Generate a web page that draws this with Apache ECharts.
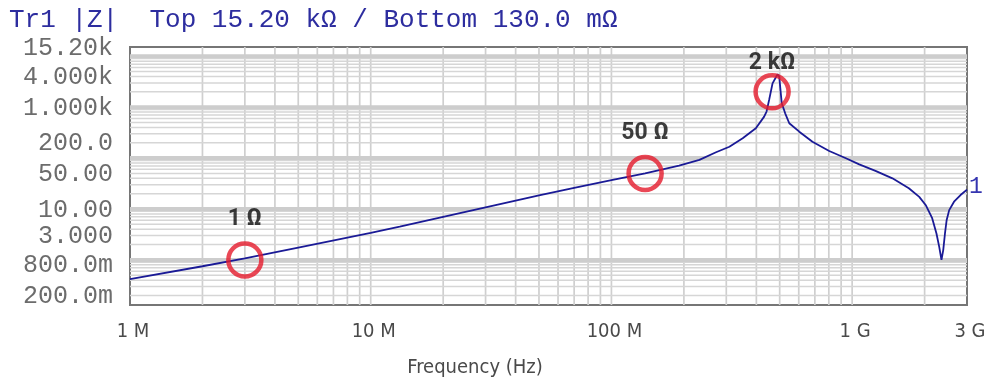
<!DOCTYPE html>
<html>
<head>
<meta charset="utf-8">
<script src="https://cdn.jsdelivr.net/npm/echarts@6/dist/echarts.min.js"></script>
<style>
  html, body { margin: 0; padding: 0; background: #ffffff; }
  #chart { width: 987px; height: 383px; }
</style>
</head>
<body>
<div id="chart"></div>
<script>
// |Z| sweep of trace Tr1 (frequency in Hz, impedance in ohms)
const freqHz = [
  1e6, 2e6, 3e6, 5e6, 10e6, 13.2e6, 20e6, 30e6, 50e6, 70e6, 100e6, 138e6, 191e6,
  232e6, 272e6, 309e6, 351e6, 398e6, 431e6, 441e6, 452e6, 467e6, 490e6, 498e6,
  503e6, 510e6, 527e6, 548e6, 603e6, 684e6, 803e6, 942e6, 1.07e9, 1.25e9, 1.47e9,
  1.72e9, 1.90e9, 2.02e9, 2.15e9, 2.24e9, 2.30e9, 2.35e9, 2.39e9, 2.43e9, 2.47e9,
  2.53e9, 2.65e9, 2.82e9, 3e9
];
const impedanceOhm = [
  0.42, 0.75, 1.07, 1.75, 3.4, 4.5, 7.0, 10.8, 18.5, 26, 37, 50, 71,
  92, 130, 167, 245, 385, 652, 820, 1390, 2940, 4430, 3980,
  2349, 1190, 758, 483, 330, 209, 138, 99, 75, 56, 40,
  25.5, 17.3, 12, 6.6, 3.3, 1.8, 1.0, 1.56, 3.3, 6.1,
  9.5, 13.9, 18.8, 24
];

// Axis tick labels
const yTickValues = [15200, 4000, 1000, 200, 50, 10, 3, 0.8, 0.2];
const yTickLabels = ['15.20k', '4.000k', '1.000k', '200.0', '50.00', '10.00', '3.000', '800.0m', '200.0m'];
const xTickValues = [1e6, 1e7, 1e8, 1e9, 3e9];
const xTickLabels = ['1 M', '10 M', '100 M', '1 G', '3 G'];

// Highlighted points
const calloutFreqHz = [3e6, 138e6, 465e6];
const calloutOhm = [1, 50, 2000];
const calloutText = ['1 Ω', '50 Ω', '2 kΩ'];

const titleText = 'Tr1 |Z|  Top 15.20 kΩ / Bottom 130.0 mΩ';
const xAxisTitle = 'Frequency (Hz)';

const X_MIN = 1e6, X_MAX = 3e9;
const Y_MIN = 0.13, Y_MAX = 15200;

// Log grid: lines at 1..9 of every decade inside the plot
const vGridData = [];
for (const d of [1e6, 1e7, 1e8, 1e9]) {
  for (let m = 1; m <= 9; m++) {
    const f = m * d;
    if (f > X_MIN * 1.0001 && f < X_MAX * 0.9999) vGridData.push([f, Y_MIN]);
  }
}
const hGridData = [];
for (const d of [0.1, 1, 10, 100, 1000, 10000]) {
  for (let m = 1; m <= 9; m++) {
    const v = m * d;
    if (v > Y_MIN && v < Y_MAX) hGridData.push([X_MIN, v, m === 1 ? 1 : 0]);
  }
}

const chart = echarts.init(document.getElementById('chart'), null, { renderer: 'canvas' });

const monoFont = '"Liberation Mono", "DejaVu Sans Mono", monospace';
const narrowFont = '"Liberation Sans Narrow", "DejaVu Sans Condensed", "Roboto", sans-serif';

chart.setOption({
  animation: false,
  backgroundColor: '#ffffff',
  title: {
    text: titleText,
    left: 9,
    top: 7,
    padding: 0,
    textStyle: { fontFamily: monoFont, fontSize: 26, fontWeight: 'normal', color: '#2d2d9f' }
  },
  grid: {
    left: 130, right: 20, top: 47, bottom: 78,
    show: true, borderColor: '#767676', borderWidth: 2, backgroundColor: '#ffffff'
  },
  xAxis: {
    type: 'log', logBase: 10, min: X_MIN, max: X_MAX,
    axisLine: { show: false }, axisTick: { show: false },
    axisLabel: { show: false }, splitLine: { show: false }
  },
  yAxis: {
    type: 'log', logBase: 10, min: Y_MIN, max: Y_MAX,
    axisLine: { show: false }, axisTick: { show: false },
    axisLabel: { show: false }, splitLine: { show: false }
  },
  graphic: [{
    type: 'text',
    x: 475, y: 368,
    style: {
      text: xAxisTitle, align: 'center', verticalAlign: 'middle',
      font: '20px ' + narrowFont, fill: '#4a4a4a'
    }
  }],
  series: [
    {
      // vertical grid lines
      type: 'custom', silent: true, clip: false, z: 1,
      data: vGridData,
      renderItem: function (params, api) {
        const f = api.value(0);
        const a = api.coord([f, Y_MAX]);
        const b = api.coord([f, Y_MIN]);
        return {
          type: 'line',
          shape: { x1: a[0], y1: a[1], x2: b[0], y2: b[1] },
          style: { stroke: '#cfcfcf', lineWidth: 1.7 }
        };
      }
    },
    {
      // horizontal grid lines, decades drawn heavier
      type: 'custom', silent: true, clip: false, z: 1,
      data: hGridData,
      renderItem: function (params, api) {
        const v = api.value(1);
        const a = api.coord([X_MIN, v]);
        const b = api.coord([X_MAX, v]);
        const major = api.value(2) === 1;
        return {
          type: 'line',
          shape: { x1: a[0], y1: a[1], x2: b[0], y2: b[1] },
          style: { stroke: major ? '#cdcdcd' : '#d6d6d6', lineWidth: major ? 4 : 1.5 }
        };
      }
    },
    {
      // y tick labels
      type: 'custom', silent: true, clip: false, z: 5,
      data: yTickValues.map(v => [X_MIN, v]),
      renderItem: function (params, api) {
        const p = api.coord([X_MIN, api.value(1)]);
        return {
          type: 'text',
          x: p[0] - 17, y: p[1] + 1,
          style: {
            text: yTickLabels[params.dataIndex],
            align: 'right', verticalAlign: 'middle',
            font: '25px ' + monoFont, fill: '#6c6c6c'
          }
        };
      }
    },
    {
      // x tick labels
      type: 'custom', silent: true, clip: false, z: 5,
      data: xTickValues.map(f => [f, Y_MIN]),
      renderItem: function (params, api) {
        const p = api.coord([api.value(0), Y_MIN]);
        return {
          type: 'text',
          x: p[0] + 3, y: p[1] + 27,
          style: {
            text: xTickLabels[params.dataIndex],
            align: 'center', verticalAlign: 'middle',
            font: '20px ' + narrowFont, fill: '#4a4a4a'
          }
        };
      }
    },
    {
      name: 'Tr1',
      type: 'line', z: 3,
      data: freqHz.map((f, i) => [f, impedanceOhm[i]]),
      showSymbol: false,
      symbol: 'none',
      lineStyle: { color: '#1a1a96', width: 1.8 },
      endLabel: {
        show: true,
        formatter: '1',
        distance: 2,
        offset: [0, -3],
        color: '#3535b0',
        fontFamily: monoFont,
        fontSize: 23
      }
    },
    {
      type: 'scatter', z: 4,
      data: calloutFreqHz.map((f, i) => ({
        value: [f, calloutOhm[i]],
        label: { distance: i === 2 ? -2 : 10 }
      })),
      symbol: 'circle',
      symbolSize: 33,
      itemStyle: { color: 'rgba(0,0,0,0)', borderColor: '#e51a2c', borderWidth: 4.5 },
      label: {
        show: true,
        position: 'top',
        formatter: p => calloutText[p.dataIndex],
        fontFamily: 'Roboto, "Noto Sans", sans-serif',
        fontWeight: 'bold',
        fontSize: 23,
        lineHeight: 23,
        color: '#0d0d0d'
      }
    }
  ]
});
</script>
</body>
</html>
